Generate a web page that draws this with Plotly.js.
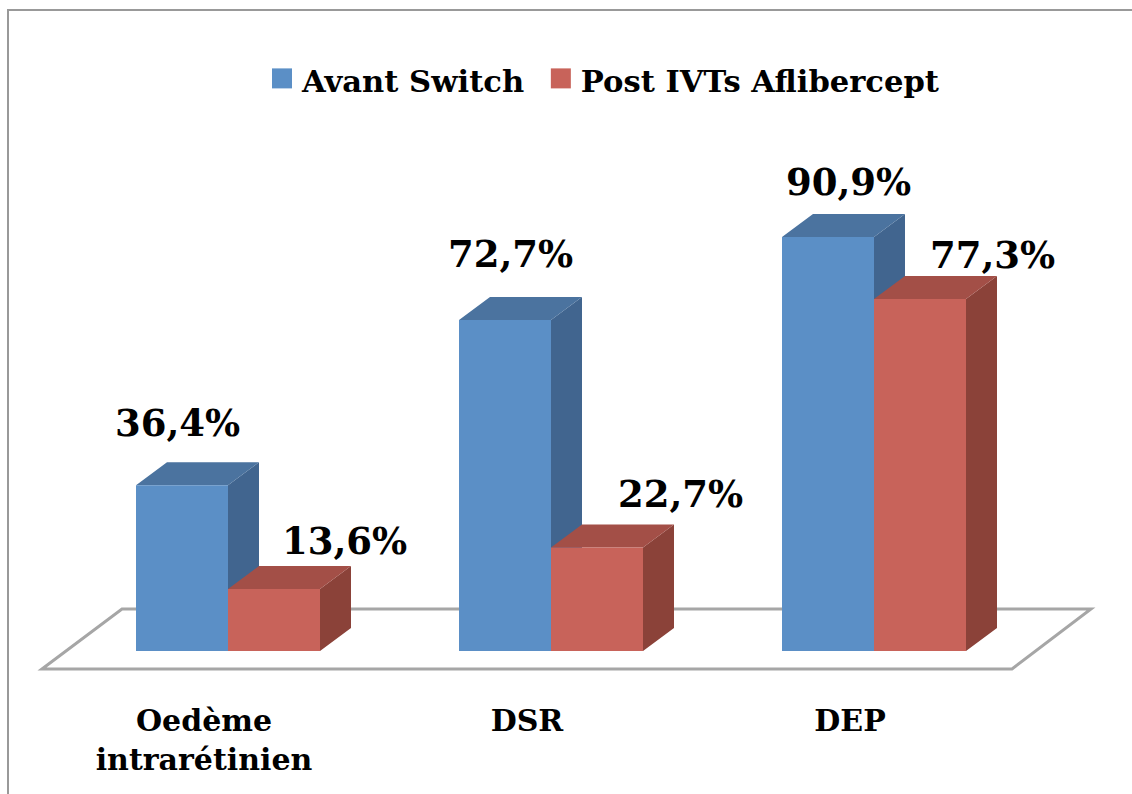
<!DOCTYPE html>
<html>
<head>
<meta charset="utf-8">
<script src="https://cdn.plot.ly/plotly-3.0.1.min.js"></script>
<style>html,body{margin:0;padding:0;background:#fff;overflow:hidden}</style>
</head>
<body>
<div id="chart" style="width:1132px;height:794px"></div>
<script>
const categories = ["Oedème<br>intrarétinien", "DSR", "DEP"];
const seriesNames = ["Avant Switch", "Post IVTs Aflibercept"];
const avantSwitch = [36.4, 72.7, 90.9];
const postIVTs = [13.6, 22.7, 77.3];

// ---- scale of the page: pixels per axis unit
const W = 1132, H = 794, plotBottom = 94, PLOT_H = H - plotBottom;
const pxPerCat = 323, pxPerUnit = 4.554, originX = 228, originY = 651;
const xR = [-originX / pxPerCat, (W - originX) / pxPerCat];
const yR = [(originY - PLOT_H) / pxPerUnit, originY / pxPerUnit];
const dx = px => px / pxPerCat, dy = px => px / pxPerUnit;

const barW = dx(92), depthX = dx(31), depthY = dy(23);
const idx = categories.map((_, i) => i);

function faces(values, left, kind) {
  const xs = [], ys = [];
  values.forEach((v, i) => {
    const a = i + left, b = a + barW;
    if (kind === "top") {
      xs.push(a, b, b + depthX, a + depthX, a, null);
      ys.push(v, v, v + depthY, v + depthY, v, null);
    } else {
      xs.push(b, b + depthX, b + depthX, b, b, null);
      ys.push(0, depthY, v + depthY, v, 0, null);
    }
  });
  return { x: xs, y: ys };
}
function face(values, left, kind, color) {
  const f = faces(values, left, kind);
  return { type: "scatter", mode: "lines", x: f.x, y: f.y, fill: "toself", fillcolor: color,
           line: { width: 0, color: color }, hoverinfo: "skip", showlegend: false, xaxis: "x", yaxis: "y" };
}
const bar = (name, values, color) => ({
  type: "bar", name, x: idx, y: values, marker: { color, line: { width: 0 } },
  xaxis: "x2", yaxis: "y2", hoverinfo: "skip"
});

const traces = [
  face(avantSwitch, -barW, "side", "#41658F"),
  face(avantSwitch, -barW, "top", "#4B739F"),
  face(postIVTs, 0, "side", "#8B4239"),
  face(postIVTs, 0, "top", "#A34F47"),
  bar(seriesNames[0] + "\u00A0", avantSwitch, "#5B8FC6"),
  bar(seriesNames[1], postIVTs, "#C8635A")
];

const fontFam = '"DejaVu Serif", serif';
const labelOffsetsA = [[-5, 62], [5, 66], [20, 55]];
const labelOffsetsB = [[70, 48], [83, 54], [72, 44]];
const fmt = v => v.toFixed(1).replace(".", ",") + "%";
const ann = (vals, left, offs) => vals.map((v, i) => ({
  x: i + left + barW / 2, y: v, xref: "x", yref: "y", text: fmt(v), showarrow: false,
  xanchor: "center", yanchor: "middle", xshift: offs[i][0], yshift: offs[i][1],
  font: { family: fontFam, size: 37, color: "#000", weight: 700 }
}));

const floorPath = () => {
  const p = (x, y) => dx(x - originX).toFixed(4) + "," + dy(originY - y).toFixed(4);
  return "M" + p(42, 669) + "L" + p(122, 609) + "L" + p(1091, 609) + "L" + p(1012, 669) + "Z";
};

const layout = {
  width: W, height: H, margin: { l: 0, r: 0, t: 0, b: plotBottom, pad: 0 },
  paper_bgcolor: "#fff", plot_bgcolor: "rgba(0,0,0,0)",
  barmode: "group", bargap: 1 - 2 * barW, bargroupgap: 0,
  showlegend: true,
  legend: { orientation: "h", x: 262 / W, xanchor: "left", y: 1 - 54 / PLOT_H, yanchor: "top",
            font: { family: fontFam, size: 30.6, color: "#000", weight: 700 }, traceorder: "normal" },
  xaxis: { range: xR, tickmode: "array", tickvals: idx.map(i => i - dx(24)), ticktext: categories,
           ticks: "", showline: false, showgrid: false, zeroline: false, fixedrange: true,
           tickfont: { family: fontFam, size: 30, color: "#000", weight: 700 } },
  yaxis: { range: yR, visible: false, fixedrange: true },
  xaxis2: { range: xR, overlaying: "x", visible: false, fixedrange: true },
  yaxis2: { range: yR, overlaying: "y", visible: false, fixedrange: true },
  annotations: [...ann(avantSwitch, -barW, labelOffsetsA), ...ann(postIVTs, 0, labelOffsetsB)],
  shapes: [
    { type: "path", xref: "x", yref: "y", layer: "below", path: floorPath(),
      line: { color: "#A6A6A6", width: 3 }, fillcolor: "#fff" },
    { type: "path", xref: "paper", yref: "paper", layer: "below",
      path: "M" + 8 / W + "," + (PLOT_H - H) / PLOT_H + "L" + 8 / W + "," + (PLOT_H - 10) / PLOT_H + "L1," + (PLOT_H - 10) / PLOT_H,
      line: { color: "#999", width: 2 } }
  ]
};

Plotly.newPlot("chart", traces, layout, { displayModeBar: false, staticPlot: true }).then(() => {
  document.querySelectorAll("#chart .legend .legendpoints path").forEach(p => {
    p.setAttribute("d", "M10,8H-10V-12H10Z");
    p.style.strokeWidth = "0";
  });
});
</script>
</body>
</html>
